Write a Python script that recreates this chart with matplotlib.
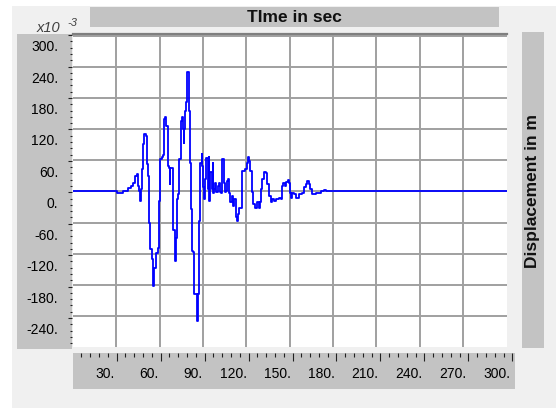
import matplotlib
matplotlib.use("Agg")
import matplotlib.pyplot as plt
import matplotlib.transforms as mtransforms
from matplotlib.patches import Rectangle
import numpy as np

plt.rcParams['font.family'] = ['Liberation Sans', 'DejaVu Sans']

# displacement trace (time in s, displacement in 1e-3 m)
time_s = [
    0.0, 29.7, 30.5, 33.2, 34.4, 37.8, 40.1, 41.7, 43.1, 44.0,
    44.7, 45.3, 45.8, 46.5, 47.0, 47.7, 48.6, 49.3, 50.5, 50.9,
    51.6, 52.3, 53.2, 54.6, 55.5, 56.2, 57.4, 58.5, 59.2, 60.1,
    61.5, 62.3, 63.1, 63.8, 64.3, 65.5, 65.7, 66.6, 67.0, 67.3,
    68.2, 68.9, 69.5, 70.5, 71.2, 71.9, 72.8, 73.5, 74.6, 75.3,
    76.2, 76.7, 77.0, 77.6, 78.1, 78.8, 80.0, 80.2, 80.9, 81.8,
    82.3, 83.2, 83.8, 85.0, 85.9, 86.6, 87.3, 88.0, 89.0, 89.4,
    90.1, 90.8, 91.4, 92.1, 93.1, 93.8, 94.2, 94.9, 95.9, 96.6,
    97.0, 97.7, 98.4, 99.3, 100.0, 100.7, 101.6, 102.3, 103.0, 103.9,
    104.6, 105.3, 106.2, 106.9, 107.6, 108.0, 108.7, 109.9, 110.8, 111.5,
    112.7, 113.4, 114.0, 114.9, 116.1, 116.8, 117.7, 119.1, 120.1, 121.2,
    121.9, 122.5, 123.7, 124.2, 124.9, 126.0, 127.2, 128.4, 129.5, 130.2,
    131.1, 132.2, 133.4, 134.6, 135.7, 136.9, 138.0, 139.2, 140.3, 142.6,
    143.8, 144.5, 145.4, 146.8, 147.7, 148.6, 149.5, 150.2, 150.9, 151.9,
    153.0, 154.6, 156.4, 158.8, 159.9, 161.0, 162.2, 163.3, 164.0, 165.2,
    168.0, 171.4, 173.7, 174.9, 300.0,
]
disp_e3 = [
    0, 0, -3, -3, 1, 6, 10, 17, 30, 34,
    20, 10, 0, -18, 5, 43, 91, 111, 107, 53,
    30, -60, -111, -131, -182, -147, -118, -110, -18, 62,
    66, 70, 140, 143, 127, 125, 49, 45, 14, 45,
    45, -63, -75, -134, -89, -15, -5, 62, 136, 143,
    120, 94, 120, 156, 172, 230, 230, 156, 56, -34,
    -115, -117, -198, -198, -250, -198, -57, 56, 72, 49,
    8, -15, 24, 64, 4, 66, -18, 37, 4, 56,
    -3, 4, 17, -1, 11, 17, -1, -3, 62, 62,
    17, -1, 1, 20, 24, -3, -20, -8, -28, -15,
    -50, -57, -44, -31, -31, 40, 40, 43, 56, 66,
    59, 40, 30, -1, -24, -31, -20, -31, -20, 4,
    24, 37, 36, 14, -8, -21, -15, -18, -15, -12,
    -15, 11, 16, 11, 19, 23, 17, -2, -12, -2,
    -5, -12, -5, -2, 8, 14, 20, 14, 4, -5,
    -2, 0, 3, 0, 0,
]

x_ticks = [30, 60, 90, 120, 150, 180, 210, 240, 270, 300]
x_labels = ['30.', '60.', '90.', '120.', '150.', '180.', '210.', '240.', '270.', '300.']
y_ticks = [-240, -180, -120, -60, 0, 60, 120, 180, 240, 300]
y_labels = ['-240.', '-180.', '-120.', '-60.', '0.', '60.', '120.', '180.', '240.', '300.']

W, H = 556, 410
fig = plt.figure(figsize=(W / 100, H / 100), dpi=100, facecolor='white')

def box(x0, y0, x1, y1, color):
    fig.add_artist(Rectangle((x0 / W, 1 - y1 / H), (x1 - x0) / W, (y1 - y0) / H,
                             transform=fig.transFigure, facecolor=color,
                             edgecolor='none', zorder=-2))

def px_axes(x0, y0, x1, y1):
    return fig.add_axes([x0 / W, 1 - y1 / H, max(x1 - x0, 0.01) / W, max(y1 - y0, 0.01) / H])

# panel and grey header / ruler boxes
box(12, 7, 556, 409, '#F0F0F0')
box(90, 8, 499, 28, '#C3C3C3')
box(17, 35, 72, 350, '#C3C3C3')
box(73, 354, 515, 390, '#C3C3C3')
box(522, 33, 544, 349, '#C3C3C3')

# main plotting area
ax = px_axes(73, 35, 506.5, 347.75)
ax.set_facecolor('white')
ax.plot(time_s, disp_e3, color='#0000FF', lw=1.3, drawstyle='steps-post', zorder=3)
ax.set_xlim(0, 300)
ax.set_ylim(-300, 304.3)
ax.set_xticks(x_ticks[:-1])
ax.set_yticks(y_ticks)
ax.tick_params(length=0, labelbottom=False, labelleft=False)
ax.grid(True, color='#A0A0A0', lw=1.4)
for s in ['left', 'right', 'bottom']:
    ax.spines[s].set_visible(False)
ax.spines['top'].set_color('#7F7F7F')
ax.spines['top'].set_linewidth(1.6)

# x ruler (bottom)
axx = px_axes(72.7, 354, 512.3, 354)
axx.patch.set_visible(False)
for s in axx.spines.values():
    s.set_visible(False)
axx.set_xlim(0, 300)
axx.set_yticks([])
axx.set_xticks(x_ticks, labels=x_labels, fontsize=10)
axx.set_xticks([m for m in np.arange(6, 300, 6) if m % 30 != 0], minor=True)
axx.tick_params(axis='x', which='major', direction='out', length=5.8, width=0.8,
                color='#202020', pad=3.6)
axx.tick_params(axis='x', which='minor', direction='out', length=3.2, width=0.8,
                color='#202020')
shift_x = mtransforms.ScaledTranslation(-2 / 100, 0, fig.dpi_scale_trans)
for lbl in axx.get_xticklabels():
    lbl.set_ha('right')
    lbl.set_transform(lbl.get_transform() + shift_x)

# y ruler (left)
axy = px_axes(72, 36.2, 72, 350.4)
axy.patch.set_visible(False)
for s in axy.spines.values():
    s.set_visible(False)
axy.set_ylim(-300, 300)
axy.set_xticks([])
axy.set_yticks(y_ticks, labels=y_labels, fontsize=10)
axy.set_yticks([m for m in np.arange(-288, 300, 12) if m % 60 != 0], minor=True)
axy.tick_params(axis='y', which='major', direction='out', length=3, width=0.8,
                color='#202020', pad=7)
axy.tick_params(axis='y', which='minor', direction='out', length=1.2, width=0.8,
                color='#202020')
shift_y = mtransforms.ScaledTranslation(0, -4 / 100, fig.dpi_scale_trans)
for lbl in axy.get_yticklabels():
    lbl.set_va('top')
    lbl.set_transform(lbl.get_transform() + shift_y)

# titles
fig.text(294.5 / W, 1 - 18 / H, 'TIme in sec', ha='center', va='center',
         fontsize=12.5, fontweight='bold', color='#101010')
fig.text(533 / W, 1 - 190.5 / H, 'Displacement in m', ha='center', va='center',
         rotation=90, fontsize=12.5, fontweight='bold', color='#101010')
fig.text(37 / W, 1 - 32.5 / H, 'x10', ha='left', va='baseline', fontsize=10.5,
         style='italic', color='#404040')
fig.text(67 / W, 1 - 26.5 / H, '-3', ha='left', va='baseline', fontsize=8,
         style='italic', color='#404040')

fig.savefig('out.png', dpi=100, facecolor=fig.get_facecolor())
